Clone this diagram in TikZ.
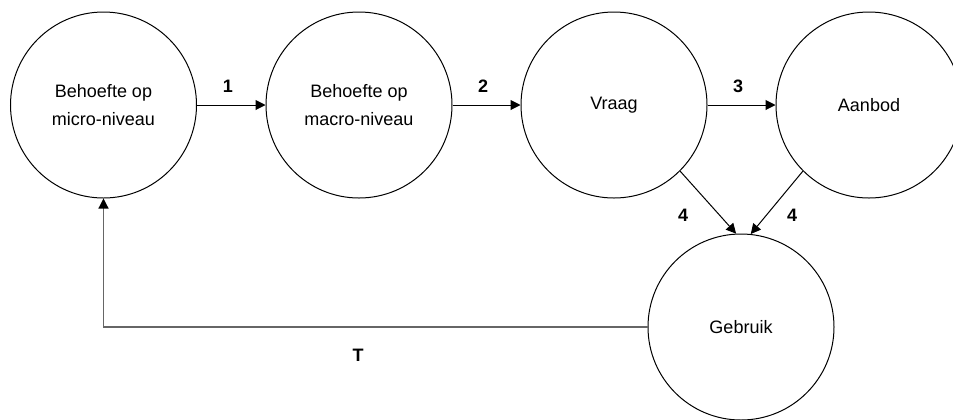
\documentclass[tikz,border=0pt]{standalone}
\usepackage{fontspec}
\setmainfont{Liberation Sans}
\usetikzlibrary{arrows.meta}
\begin{document}
\begin{tikzpicture}[x=0.75pt,y=-0.75pt,
  bubble/.style={draw=black,line width=0.75pt,circle,minimum size=139.5pt,inner sep=0pt,
    align=center,font=\fontsize{13.5pt}{21pt}\selectfont},
  lbl/.style={font=\fontsize{13.5pt}{16pt}\selectfont\bfseries,inner sep=0pt},
  conn/.style={line width=0.75pt,-{Triangle[length=7.5pt,width=7.5pt]}},
  back/.style={line width=0.9pt,draw=black!60,-{Triangle[length=7.5pt,width=7.5pt,fill=black,color=black]}}]
\useasboundingbox (0,0) rectangle (953,419);
\clip (0,0) rectangle (953,419);
\node[bubble] (c1) at (103.5,105) {Behoefte op\\micro-niveau};
\node[bubble] (c2) at (359,105) {Behoefte op\\macro-niveau};
\node[bubble] (c3) at (614,105) {Vraag};
\node[bubble] (c4) at (869,105) {Aanbod};
\node[bubble] (c5) at (741,327) {Gebruik};
\draw[conn] (c1.east) -- (c2.west);
\draw[conn] (c2.east) -- (c3.west);
\draw[conn] (c3.east) -- (c4.west);
\draw[conn] (c3.-45) -- (c5.93);
\draw[conn] (c4.-135) -- (c5.84);
\coordinate (corner) at (c1.south |- c5.west);
\draw[back] (c5.west) -- (corner) -- (c1.south);
\node[lbl] (l1) at (228,86) {1};
\node[lbl] (l2) at (483,86) {2};
\node[lbl] (l3) at (738,86) {3};
\node[lbl] (l4a) at (683,215) {4};
\node[lbl] (l4b) at (792,215) {4};
\node[lbl] (lt) at (358,355) {T};
\end{tikzpicture}
\end{document}
